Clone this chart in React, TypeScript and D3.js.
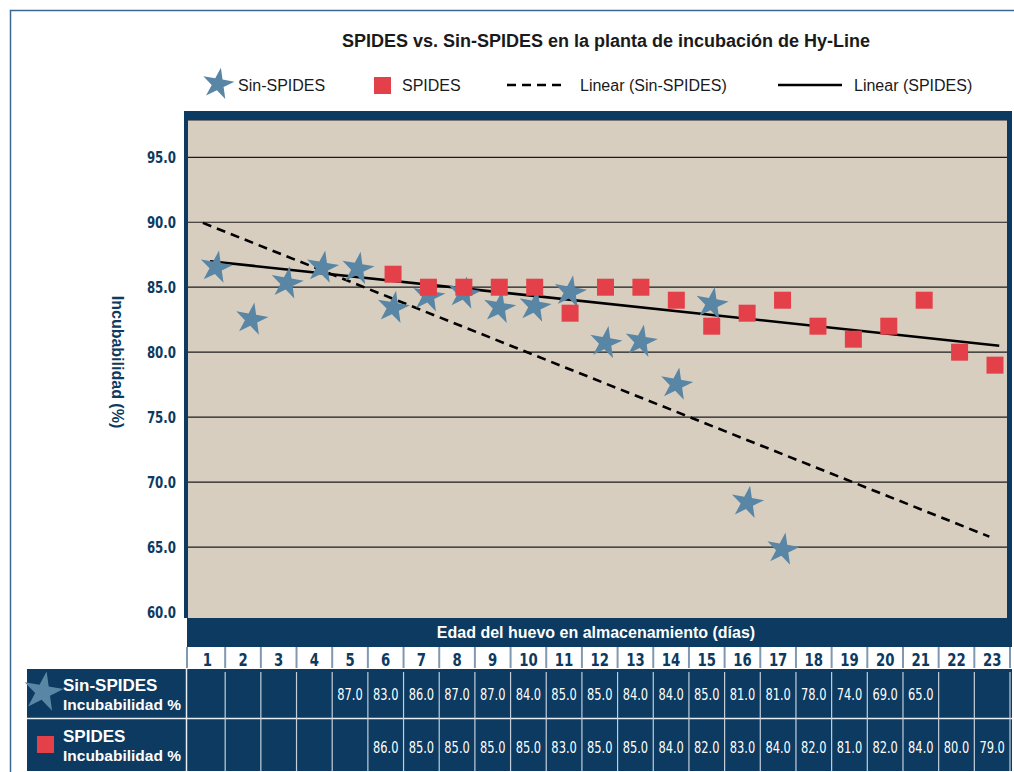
import * as d3 from "d3";

// days of storage (columns of the table / x positions)
const days = [1, 2, 3, 4, 5, 6, 7, 8, 9, 10, 11, 12, 13, 14, 15, 16, 17, 18, 19, 20, 21, 22, 23];

// plotted Sin-SPIDES stars (days 1..17)
const sinSpidesPlotDays = [1, 2, 3, 4, 5, 6, 7, 8, 9, 10, 11, 12, 13, 14, 15, 16, 17];
const sinSpidesPlotValues = [86.6, 82.6, 85.4, 86.6, 86.5, 83.5, 84.4, 84.6, 83.5, 83.6, 84.7, 80.8, 80.9, 77.6, 83.8, 68.5, 64.9];

// table rows (null = empty cell)
const sinSpidesTable = [null, null, null, null, 87, 83, 86, 87, 87, 84, 85, 85, 84, 84, 85, 81, 81, 78, 74, 69, 65, null, null];
const spidesTable = [null, null, null, null, null, 86, 85, 85, 85, 85, 83, 85, 85, 84, 82, 83, 84, 82, 81, 82, 84, 80, 79];

// trend lines, end points
const trendSinSpides = [
  { day: 0.63, value: 89.95 },
  { day: 22.84, value: 65.8 },
];
const trendSpides = [
  { day: 0.83, value: 87.0 },
  { day: 23.12, value: 80.5 },
];

const yTicks = [60, 65, 70, 75, 80, 85, 90, 95];
const gridValues = [65, 70, 75, 80, 85, 90, 95];

const NAVY = "#0c3a60";
const TAN = "#d8cec0";
const STAR = "#5a86a5";
const RED = "#e4404a";
const SANS = "'Liberation Sans', Arial, 'Helvetica Neue', sans-serif";
const NARROW = "'DejaVu Sans Condensed', 'Liberation Sans', sans-serif";

// narrow text: condensed face, squeezed a bit more horizontally
const Narrow = ({ x, y, children, size, bold = false, fill, squeeze = 0.82 }) => (
  <text
    transform={`translate(${x},${y}) scale(${squeeze},1)`}
    textAnchor="middle"
    fontFamily={NARROW}
    fontWeight={bold ? "bold" : "normal"}
    fontSize={size}
    fill={fill}
  >
    {children}
  </text>
);

export default function App() {
  const x = d3.scaleLinear().domain([1, 23]).range([216, 995]);
  const y = d3.scaleLinear().domain([60, 95]).range([612, 157.3]);
  const band = d3.scaleBand<number>().domain(days).range([189.5, 1010]);
  const mid = (d: number) => band(d)! + band.bandwidth() / 2;
  const edge = (d: number) => band(d)! + band.bandwidth();

  const star = d3.symbol().type(d3.symbolStar).size(330)()!;
  const legendStar = d3.symbol().type(d3.symbolStar).size(310)()!;
  const bigStar = d3.symbol().type(d3.symbolStar).size(400)()!;

  const line = d3
    .line<{ day: number; value: number }>()
    .x((d) => x(d.day))
    .y((d) => y(d.value));

  const spidesPoints = days
    .map((d, i) => ({ day: d, value: spidesTable[i] }))
    .filter((p) => p.value != null) as { day: number; value: number }[];

  return (
    <svg
      width={1014}
      height={772}
      style={{ position: "absolute", left: 0, top: 0, background: "#fff" }}
    >
      {/* outer frame */}
      <path d="M10.5,772 V10.5 H1014" fill="none" stroke="#3a6892" strokeWidth={1.5} />

      {/* title */}
      <text
        x={606}
        y={47}
        textAnchor="middle"
        fontFamily={SANS}
        fontWeight="bold"
        fontSize={18}
        fill="#1a1a1a"
      >
        SPIDES vs. Sin-SPIDES en la planta de incubación de Hy-Line
      </text>

      {/* legend */}
      <g fontFamily={SANS} fontSize={16} fill="#1a1a1a">
        <path d={legendStar} transform="translate(218,84) rotate(10)" fill={STAR} />
        <text x={238} y={91}>Sin-SPIDES</text>
        <rect x={374} y={77} width={17} height={17} fill={RED} />
        <text x={402} y={91}>SPIDES</text>
        <line x1={507} x2={566} y1={85} y2={85} stroke="#000" strokeWidth={2.6} strokeDasharray="9,6" />
        <text x={580} y={91}>Linear (Sin-SPIDES)</text>
        <line x1={778} x2={842} y1={85} y2={85} stroke="#000" strokeWidth={2.6} />
        <text x={854} y={91}>Linear (SPIDES)</text>
      </g>

      {/* plot frame */}
      <rect x={184} y={111} width={828} height={507} fill={NAVY} />
      <rect x={188} y={120} width={819} height={498} fill={TAN} />
      <line x1={188} x2={1007} y1={120.5} y2={120.5} stroke="#777" strokeWidth={1} />

      {/* grid */}
      {gridValues.map((v) => (
        <line key={v} x1={188} x2={1007} y1={y(v)} y2={y(v)} stroke="#1d1d1d" strokeWidth={1.2} />
      ))}

      {/* y tick labels */}
      {yTicks.map((v) => (
        <text
          key={v}
          transform={`translate(176,${y(v) + 5.5}) scale(0.82,1)`}
          textAnchor="end"
          fontFamily={NARROW}
          fontWeight="bold"
          fontSize={16}
          fill={NAVY}
        >
          {v.toFixed(1)}
        </text>
      ))}

      {/* y axis title */}
      <text
        transform="translate(112,362) rotate(90)"
        textAnchor="middle"
        fontFamily={SANS}
        fontWeight="bold"
        fontSize={16}
        fill={NAVY}
      >
        Incubabilidad (%)
      </text>

      {/* trend lines */}
      <path d={line(trendSinSpides)!} fill="none" stroke="#000" strokeWidth={2.6} strokeDasharray="9,6" />
      <path d={line(trendSpides)!} fill="none" stroke="#000" strokeWidth={2.6} />

      {/* points */}
      {sinSpidesPlotDays.map((d, i) => (
        <path
          key={"s" + d}
          d={star}
          transform={`translate(${x(d)},${y(sinSpidesPlotValues[i]) + 1}) rotate(10)`}
          fill={STAR}
        />
      ))}
      {spidesPoints.map((p) => (
        <rect
          key={"q" + p.day}
          x={x(p.day) - 8.5}
          y={y(p.value) - 8.5}
          width={17}
          height={17}
          fill={RED}
        />
      ))}

      {/* x axis title band */}
      <rect x={187} y={618} width={825} height={29} fill={NAVY} />
      <text
        x={596}
        y={638}
        textAnchor="middle"
        fontFamily={SANS}
        fontWeight="bold"
        fontSize={16}
        fill="#fff"
      >
        Edad del huevo en almacenamiento (días)
      </text>

      {/* header row with days */}
      <rect x={187} y={647} width={825} height={21} fill="#fff" />
      <line x1={187} x2={187} y1={647} y2={668} stroke="#8099b2" strokeWidth={2} />
      {days.map((d) => (
        <g key={"h" + d}>
          <line x1={edge(d)} x2={edge(d)} y1={647} y2={668} stroke="#8099b2" strokeWidth={2} />
          <Narrow x={mid(d)} y={666} size={18} bold fill={NAVY}>
            {d}
          </Narrow>
        </g>
      ))}

      {/* data rows */}
      <rect x={27} y={669} width={985} height={102} fill={NAVY} />
      <line x1={186.5} x2={186.5} y1={669} y2={771} stroke="#e8edf2" strokeWidth={1.5} />
      <line x1={27} x2={1012} y1={718.5} y2={718.5} stroke="#e8edf2" strokeWidth={1.5} />
      {days.map((d) => (
        <line key={"v" + d} x1={edge(d)} x2={edge(d)} y1={672} y2={771} stroke="#c4cfdb" strokeWidth={1.2} />
      ))}
      {days.map((d, i) => (
        <g key={"t" + d}>
          {sinSpidesTable[i] != null && (
            <Narrow x={mid(d)} y={700} size={15.5} fill="#fff">
              {sinSpidesTable[i]!.toFixed(1)}
            </Narrow>
          )}
          {spidesTable[i] != null && (
            <Narrow x={mid(d)} y={753} size={15.5} fill="#fff">
              {spidesTable[i]!.toFixed(1)}
            </Narrow>
          )}
        </g>
      ))}

      {/* row headers */}
      <path d={bigStar} transform="translate(43,692) rotate(10) scale(1.1)" fill={STAR} />
      <rect x={37} y={736} width={17} height={17} fill={RED} />
      <g fontFamily={SANS} fontWeight="bold" fill="#fff">
        <text x={63} y={691} fontSize={17}>Sin-SPIDES</text>
        <text x={63} y={710} fontSize={15.5}>Incubabilidad %</text>
        <text x={63} y={742} fontSize={17}>SPIDES</text>
        <text x={63} y={761} fontSize={15.5}>Incubabilidad %</text>
      </g>
    </svg>
  );
}
